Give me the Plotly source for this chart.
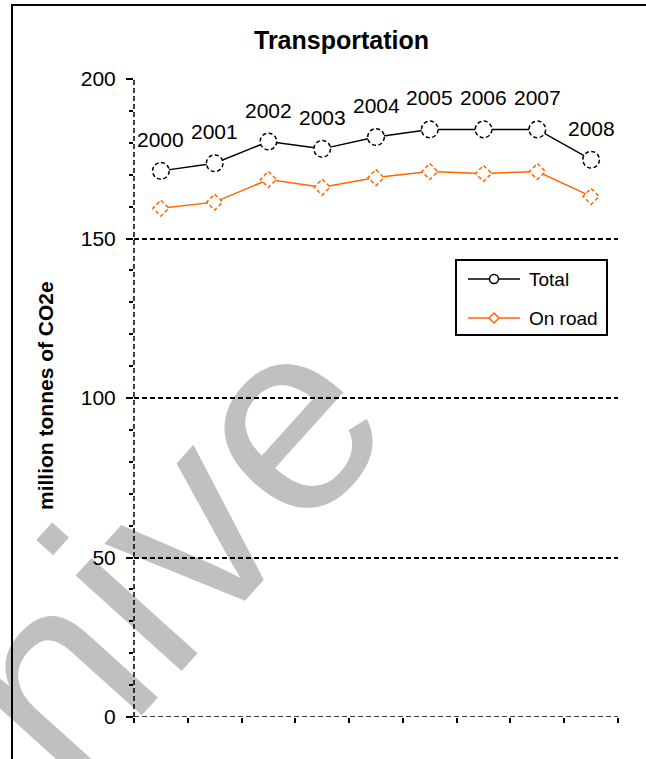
import plotly.graph_objects as go

# ---- data -------------------------------------------------------------
years = [2000, 2001, 2002, 2003, 2004, 2005, 2006, 2007, 2008]
total = [171.2, 173.6, 180.4, 178.1, 181.8, 184.2, 184.2, 184.2, 174.7]
on_road = [159.5, 161.4, 168.5, 166.1, 169.1, 171.0, 170.4, 171.0, 163.2]
series_names = ["Total", "On road"]
y_ticks = [0, 50, 100, 150, 200]

title_text = "Transportation"
y_title = "million tonnes of CO2e"
watermark_text = "nive"

# ---- style ------------------------------------------------------------
BLACK = "#000000"
ORANGE = "#FF6600"
GREY = "#C0C0C0"
FONT = "Arial, 'Liberation Sans', sans-serif"
DASH = "5px,3px"
MARKER_DASH = "4px,2.5px"
SERIES_COLORS = [BLACK, ORANGE]

W, H = 646, 759
L, R, T, B = 134, 28, 79, 42
PW, PH = W - L - R, H - T - B


def px_x(p):
    """page pixel column -> paper x"""
    return (p - L) / PW


def px_y(p):
    """page pixel row -> paper y"""
    return (H - B - p) / PH


fig = go.Figure()

fig.add_trace(go.Scatter(
    x=years, y=total, name=series_names[0], mode="lines",
    line=dict(color=BLACK, width=1.5), showlegend=False,
))
fig.add_trace(go.Scatter(
    x=years, y=on_road, name=series_names[1], mode="lines",
    line=dict(color=ORANGE, width=1.5), showlegend=False,
))

shapes = []

# watermark, below the grid
shapes.append(dict(
    type="rect", xref="paper", yref="paper",
    x0=px_x(146) - 0.005, x1=px_x(146) + 0.005,
    y0=px_y(532) - 0.005, y1=px_y(532) + 0.005,
    line=dict(width=0), fillcolor="rgba(0,0,0,0)", layer="below",
    label=dict(text=watermark_text, textangle=-48,
               textposition="middle center",
               font=dict(family=FONT, size=270, color=GREY)),
))

# dashed axis lines
shapes.append(dict(
    type="line", xref="paper", yref="y", x0=0, x1=0,
    y0=y_ticks[0], y1=y_ticks[-1],
    line=dict(color=BLACK, width=1.5, dash=DASH), layer="above",
))
shapes.append(dict(
    type="line", xref="paper", yref="y", x0=0, x1=1,
    y0=y_ticks[0], y1=y_ticks[0],
    line=dict(color=BLACK, width=1.5, dash=DASH), layer="above",
))

# markers with dashed outlines
for yr, v in zip(years, total):
    shapes.append(dict(
        type="circle", xref="x", yref="y",
        xsizemode="pixel", ysizemode="pixel", xanchor=yr, yanchor=v,
        x0=-8.3, x1=8.3, y0=-8.3, y1=8.3,
        line=dict(color=BLACK, width=1.5, dash=MARKER_DASH),
        fillcolor="white", layer="above",
    ))
for yr, v in zip(years, on_road):
    shapes.append(dict(
        type="path", xref="x", yref="y",
        xsizemode="pixel", ysizemode="pixel", xanchor=yr, yanchor=v,
        path="M0,8 L8,0 L0,-8 L-8,0 Z",
        line=dict(color=ORANGE, width=1.5, dash=MARKER_DASH),
        fillcolor="white", layer="above",
    ))

# legend box with line + marker samples
LEG_X0, LEG_X1, LEG_Y0, LEG_Y1 = 456, 607, 260, 335
LEG_ROWS = [279, 318]
shapes.append(dict(
    type="rect", xref="paper", yref="paper",
    x0=px_x(LEG_X0), x1=px_x(LEG_X1), y0=px_y(LEG_Y1), y1=px_y(LEG_Y0),
    line=dict(color=BLACK, width=2), fillcolor="white", layer="above",
))
for i, (row, col) in enumerate(zip(LEG_ROWS, SERIES_COLORS)):
    shapes.append(dict(
        type="line", xref="paper", yref="paper",
        x0=px_x(468), x1=px_x(520), y0=px_y(row), y1=px_y(row),
        line=dict(color=col, width=1.5), layer="above",
    ))
    sym = dict(
        xref="paper", yref="paper", xsizemode="pixel", ysizemode="pixel",
        xanchor=px_x(494), yanchor=px_y(row),
        line=dict(color=col, width=1.5), fillcolor="white", layer="above",
    )
    if i == 0:
        sym.update(type="circle", x0=-4.5, x1=4.5, y0=-4.5, y1=4.5)
    else:
        sym.update(type="path", path="M0,5 L5,0 L0,-5 L-5,0 Z")
    shapes.append(sym)

# chart frame
shapes.append(dict(
    type="rect", xref="paper", yref="paper",
    x0=px_x(12), x1=px_x(720), y0=px_y(820), y1=px_y(5),
    line=dict(color=BLACK, width=2), fillcolor="rgba(0,0,0,0)",
    layer="above",
))

annotations = []
# year labels above the total series
for yr, v in zip(years, total):
    annotations.append(dict(
        x=yr, y=v, xref="x", yref="y", text=str(yr), showarrow=False,
        xanchor="center", yanchor="bottom", yshift=18,
        font=dict(family=FONT, size=21, color=BLACK),
    ))
# legend labels
for name, row in zip(series_names, LEG_ROWS):
    annotations.append(dict(
        x=px_x(527), y=px_y(row), xref="paper", yref="paper", text=name,
        showarrow=False, xanchor="left", yanchor="middle",
        font=dict(family=FONT, size=19, color=BLACK),
    ))
# value axis title
annotations.append(dict(
    x=px_x(45), y=px_y(396), xref="paper", yref="paper", text=y_title,
    showarrow=False, textangle=-90, xanchor="center", yanchor="middle",
    font=dict(family=FONT, size=21, color=BLACK, weight="bold"),
))
# chart title
annotations.append(dict(
    x=px_x(341), y=px_y(40), xref="paper", yref="paper",
    text="<b>" + title_text + "</b>", showarrow=False,
    xanchor="center", yanchor="middle",
    font=dict(family=FONT, size=25, color=BLACK),
))

bounds = [yr - 0.5 for yr in years] + [years[-1] + 0.5]

fig.update_layout(
    width=W, height=H,
    margin=dict(l=L, r=R, t=T, b=B, pad=0),
    paper_bgcolor="white", plot_bgcolor="white",
    font=dict(family=FONT, color=BLACK),
    showlegend=False,
    xaxis=dict(
        range=[bounds[0], bounds[-1]], tickmode="array", tickvals=bounds,
        showticklabels=False, ticks="outside", ticklen=5, tickwidth=1.5,
        tickcolor=BLACK, showgrid=False, zeroline=False, showline=False,
        fixedrange=True,
    ),
    yaxis=dict(
        range=[y_ticks[0], y_ticks[-1]], tickmode="array", tickvals=y_ticks,
        ticks="outside", ticklen=7, tickwidth=1.5, tickcolor=BLACK,
        tickfont=dict(family=FONT, size=21, color=BLACK),
        ticklabelstandoff=6,
        showgrid=True, gridcolor=BLACK, gridwidth=1.5, griddash=DASH,
        zeroline=False, showline=False,
        minor=dict(ticks="outside", ticklen=4, tickwidth=1.5,
                   tickcolor=BLACK, dtick=10, tick0=0, showgrid=False),
        fixedrange=True,
    ),
    shapes=shapes,
    annotations=annotations,
)

fig.write_html("out.html")
